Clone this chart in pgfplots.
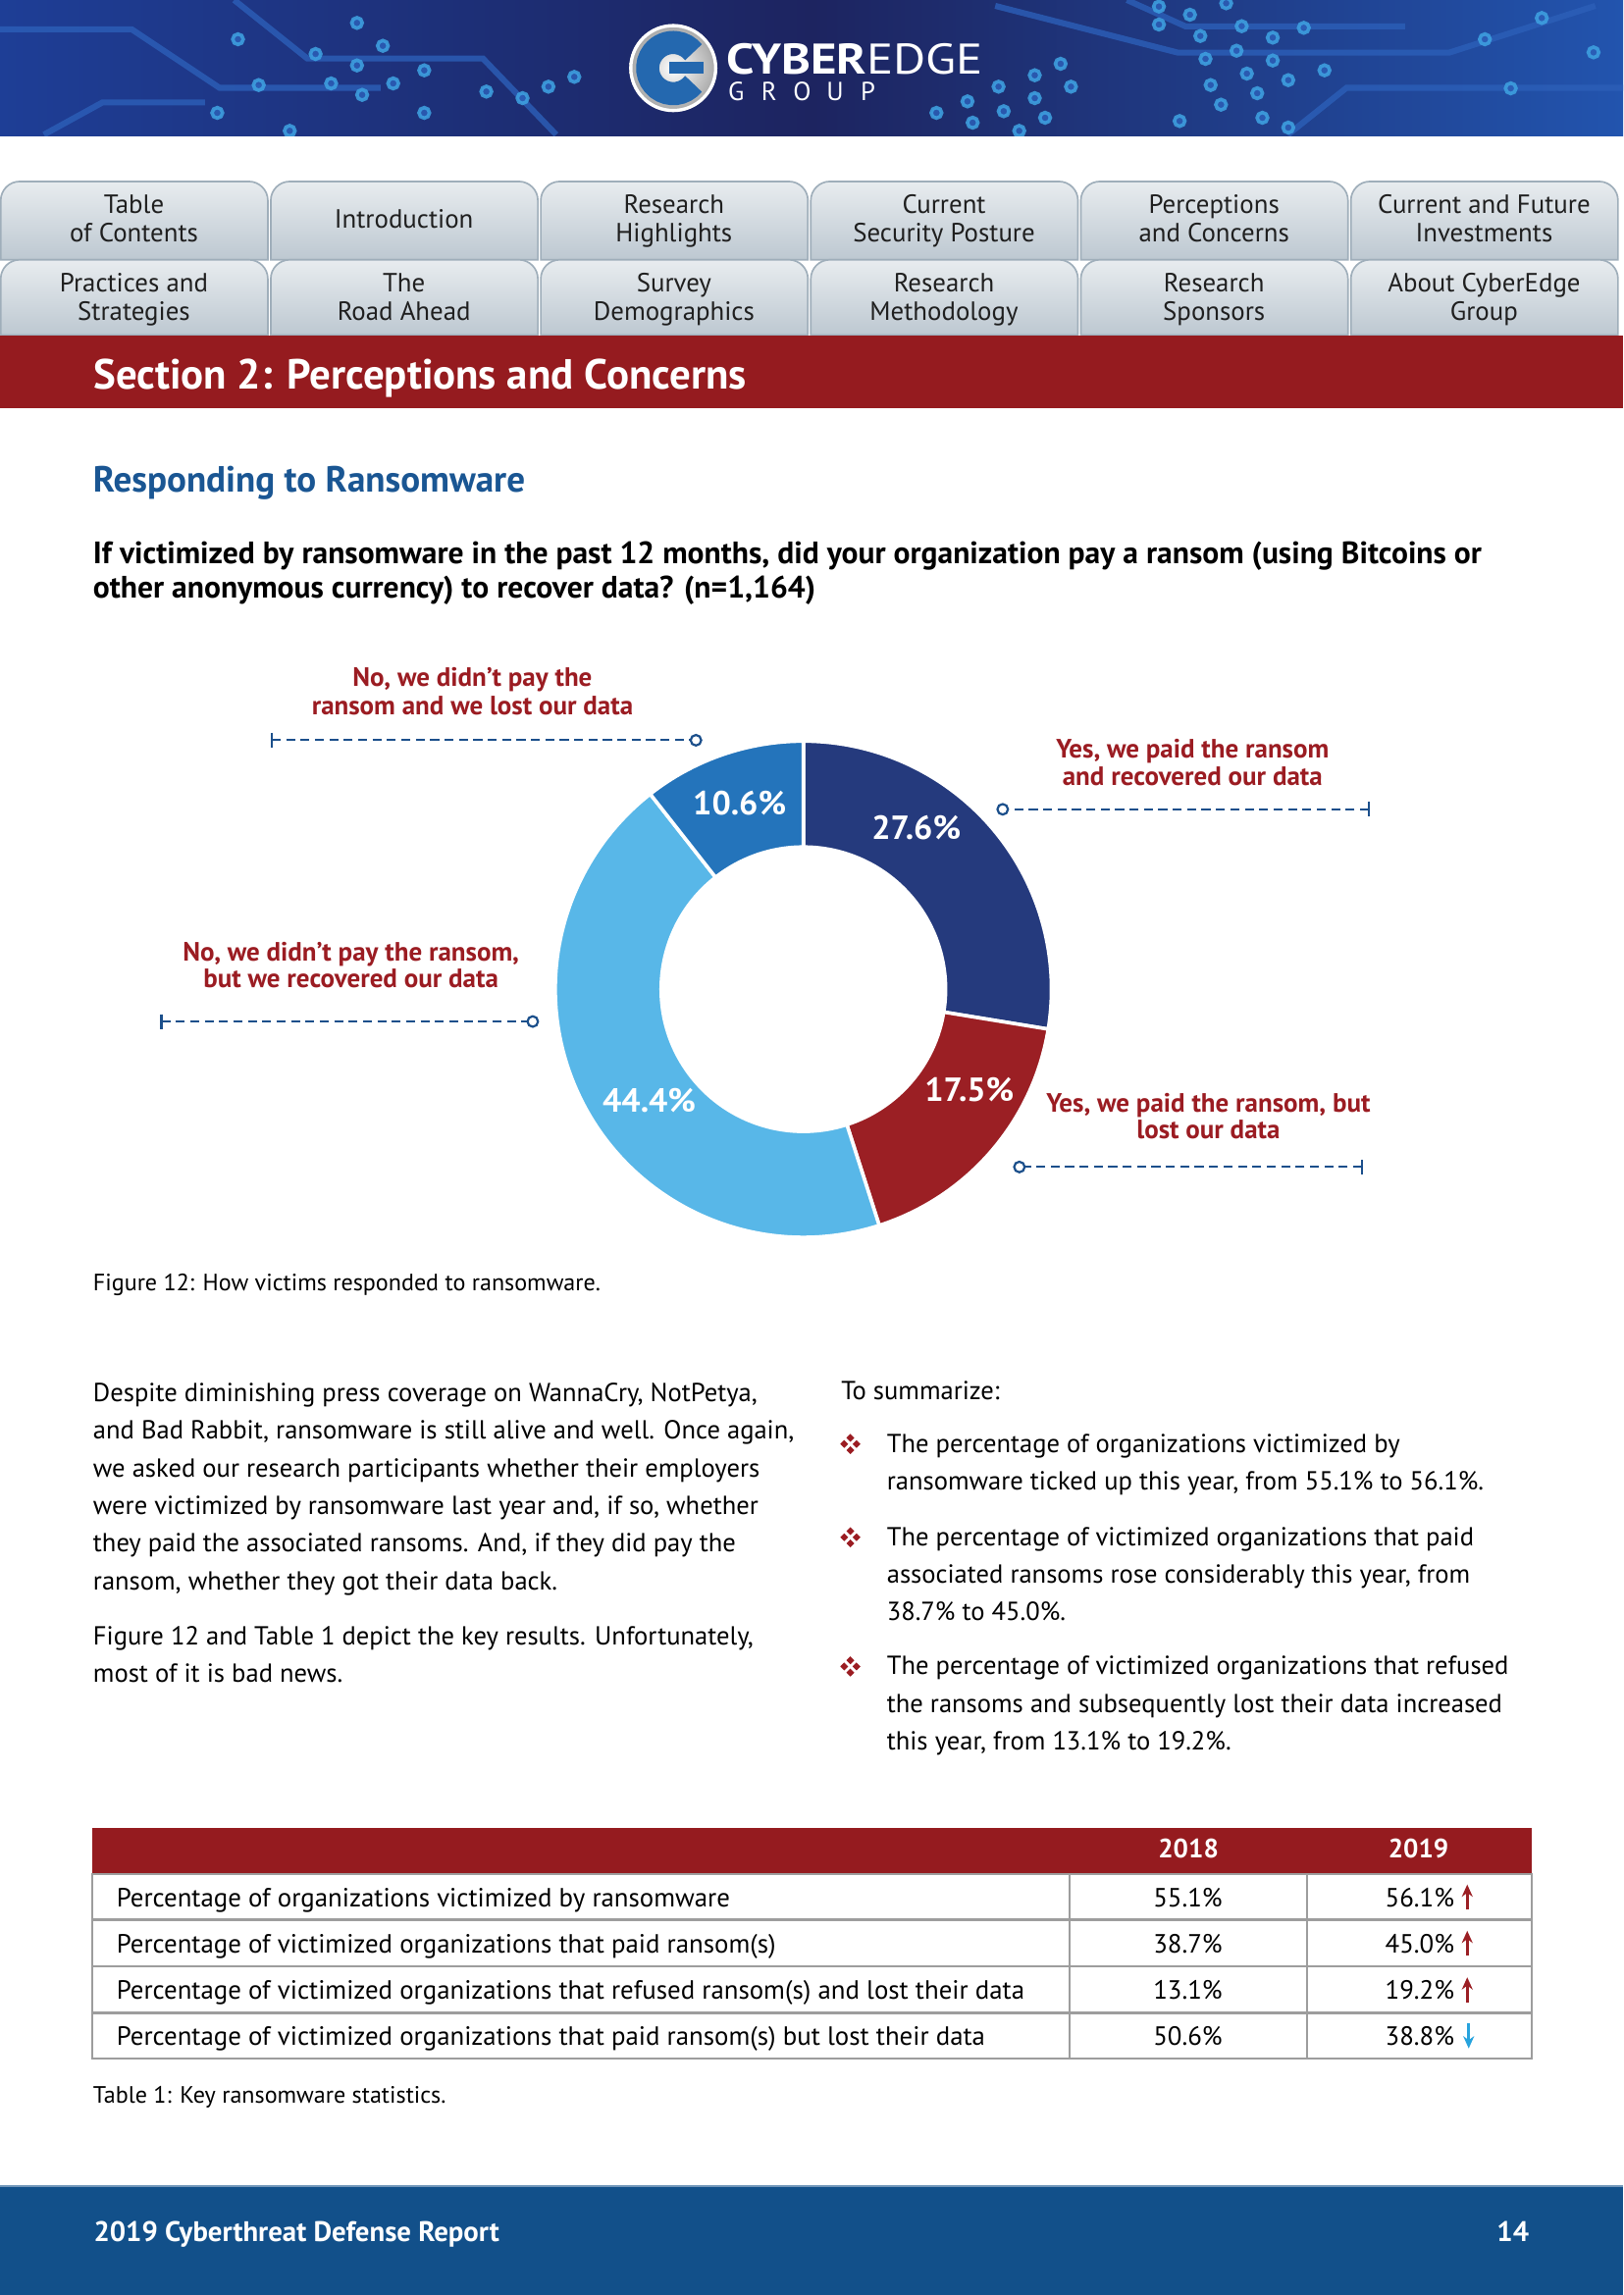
\documentclass[border=0pt]{standalone}
\usepackage{pgfplots}
\pgfplotsset{compat=1.18}
\usepackage{fontspec}
\setmainfont{PT Sans}
\usetikzlibrary{arrows.meta}

\definecolor{navy}{HTML}{253A7D}
\definecolor{slred}{HTML}{9B1F24}
\definecolor{lblue}{HTML}{58B7E8}
\definecolor{mblue}{HTML}{2474BB}
\definecolor{barred}{HTML}{951B1F}
\definecolor{titleblue}{HTML}{1A5693}
\definecolor{lineblue}{HTML}{1B4F8B}
\definecolor{footblue}{HTML}{12508A}
\definecolor{labred}{HTML}{9B1C22}
\definecolor{tabtop}{HTML}{E8ECEF}
\definecolor{tabbot}{HTML}{BDC8D1}
\definecolor{tabline}{HTML}{9FAEBA}
\definecolor{banL}{HTML}{1E3E96}
\definecolor{banM}{HTML}{1D2460}
\definecolor{banR}{HTML}{2254AE}
\definecolor{trace}{HTML}{2C5FB8}
\definecolor{dotc}{HTML}{3FA3E2}
\definecolor{tgrid}{HTML}{9D9D9D}
\definecolor{downblue}{HTML}{27A3DD}

\newcommand\fs[2]{\fontsize{#1}{#2}\selectfont}

% slice shares (percent) and their angles, clockwise from 12 o'clock
\def\pA{27.6}\def\pB{17.5}\def\pC{44.4}\def\pD{10.6}
\pgfmathsetmacro\k{360/(\pA+\pB+\pC+\pD)}
\pgfmathsetmacro\aA{90}
\pgfmathsetmacro\aB{\aA-\k*\pA}
\pgfmathsetmacro\aC{\aB-\k*\pB}
\pgfmathsetmacro\aD{\aC-\k*\pC}
\pgfmathsetmacro\aE{\aD-\k*\pD}
\def\Ro{3.21}\def\Ri{1.84}
\pgfmathsetmacro\Rd{\Ro-\Ri}

\newcommand\slice[3]{%
  \addplot[draw=white, line width=1.3pt, fill=#3, data cs=polar]
    coordinates {(#1,\Ro)}
    arc[start angle=#1, end angle=#2, radius=\Ro cm]
    -- ++({#2+180}:\Rd cm)
    arc[start angle=#2, end angle=#1, radius=\Ri cm]
    -- cycle;}

% dashed leader with a tick at one end and a ring at the other
\newcommand\leader[3]{% y, tick x, ring x
  \draw[lineblue, line width=0.7pt, dash pattern=on 3.3pt off 2pt] (#2,#1) -- (#3,#1);
  \draw[lineblue, line width=0.8pt] (#2,#1-5) -- (#2,#1+5);
  \draw[lineblue, line width=0.8pt, fill=white] (#3,#1) circle (3.6);}

\newcommand\bul[2]{%
  \foreach \dx/\dy in {0/-4.2,-4.2/0,4.2/0,0/4.2}
    \fill[labred] (#1+\dx,#2+\dy) +(0,-2.7) -- +(2.7,0) -- +(0,2.7) -- +(-2.7,0) -- cycle;}

\begin{document}
\begin{tikzpicture}
\begin{scope}[x=0.018936cm, y=-0.018936cm]
\path[use as bounding box, fill=white] (0,0) rectangle (1109,1568.2);

% ---- banner
\fill[left color=banL, right color=banR, middle color=banM] (0,0) rectangle (1109,92.7);
\begin{scope}
\clip (0,0) rectangle (1109,92.7);
\draw[trace, line width=2.2, opacity=.8]
  (680,4) -- (805,36) -- (990,36) -- (1090,4)
  (770,0) -- (810,18) -- (960,18)
  (0,20) -- (90,20) -- (150,60) -- (260,60)
  (160,0) -- (210,40) -- (330,40) -- (380,92)
  (880,92) -- (920,60) -- (1109,60)
  (30,92) -- (70,70) -- (140,70);
\foreach \a/\b in {1120/20,1150/45,1185/10,1120/75,1160/110,1200/80,1230/115,1260/85,
  1195/155,1230/185,1165/180,1205/225,1245/245,1280/215,1170/260,1215/285,1180/320,
  1220/360,1245/390,1140/370,1025/195,1000/230,1035/265,965/265,1000/300,935/310,
  970/340,1010/360,905/345,940/375,985/400,1460/270,1490/55,1435/120,1540/160,
  345/70,370/140,305/165,345/200,380/255,320/255,350/290,410/215,470/280,505/300,
  530/265,555/235,410/345,250/260,210/345,230/120,280/400}
  \draw[dotc, line width=1.3, fill=trace, opacity=.85] (\a*0.707,\b*0.2235) circle (3.6);
\end{scope}
% logo
\shade[inner color=white, outer color=black!35] (460,46.5) circle (30);
\draw[white, line width=1.2] (460,46.5) circle (29);
\draw[mblue!80!navy, line width=8.5] (460,46.5) ++(38:17.5) arc[start angle=38, end angle=322, radius=17.5];
\fill[mblue!80!navy] (457,42.5) rectangle (481,50.5);
\node[anchor=base west, inner sep=0, white, font=\fs{15.8}{16}, xscale=1.16, transform shape] at (496,50.3) {\bfseries CYBER\mdseries EDGE};
\foreach \c [count=\n from 0] in {G,R,O,U,P}
  \node[anchor=base, inner sep=0, white, font=\fs{9.6}{10}] at (503+22.5*\n,68.8) {\c};

% ---- tabs
\foreach \row/\ya/\yb in {0/124/177.5, 1/177.5/229} {
  \foreach \i in {0,...,5} {
    \pgfmathsetmacro\xa{0.5+184.5*\i}
    \pgfmathsetmacro\xb{\xa+182.5}
    \draw[tabline, line width=0.6pt, top color=tabtop, bottom color=tabbot]
      (\xa,\yb) [rounded corners=7] -- (\xa,\ya) -- (\xb,\ya) [sharp corners] -- (\xb,\yb) -- cycle;
  }
}
\begin{scope}[every node/.style={anchor=base, inner sep=0, font=\fs{9.7}{10}, text=black!88}]
\node at (91.5,145.7) {Table};            \node at (91.5,165.4) {of Contents};
\node at (276,156) {Introduction};
\node at (460.5,145.7) {Research};        \node at (460.5,165.4) {Highlights};
\node at (645,145.7) {Current};           \node at (645,165.4) {Security Posture};
\node at (829.5,145.7) {Perceptions};     \node at (829.5,165.4) {and Concerns};
\node at (1014,145.7) {Current and Future}; \node at (1014,165.4) {Investments};
\node at (91.5,199.5) {Practices and};    \node at (91.5,218.8) {Strategies};
\node at (276,199.5) {The};               \node at (276,218.8) {Road Ahead};
\node at (460.5,199.5) {Survey};          \node at (460.5,218.8) {Demographics};
\node at (645,199.5) {Research};          \node at (645,218.8) {Methodology};
\node at (829.5,199.5) {Research};        \node at (829.5,218.8) {Sponsors};
\node at (1014,199.5) {About CyberEdge};  \node at (1014,218.8) {Group};
\end{scope}

% ---- section bar and headings
\fill[barred] (0,229) rectangle (1109,279);
\node[anchor=base west, inner sep=0, white, font=\fs{15.5}{16}\bfseries] at (63.5,265.5) {Section 2: Perceptions and Concerns};
\node[anchor=base west, inner sep=0, titleblue, font=\fs{13.4}{14}\bfseries] at (63.3,336.4) {Responding to Ransomware};
\begin{scope}[every node/.style={anchor=base west, inner sep=0, font=\fs{11.4}{12}\bfseries}]
\node at (63.3,385.5) {If victimized by ransomware in the past 12 months, did your organization pay a ransom (using Bitcoins or};
\node at (63.3,408.5) {other anonymous currency) to recover data? (n=1,164)};
\end{scope}

% ---- donut labels and leaders
\begin{scope}[every node/.style={anchor=base, inner sep=0, labred, font=\fs{9.75}{10}\bfseries}]
\node at (322.8,469.3) {No, we didn’t pay the};
\node at (322.8,488.3) {ransom and we lost our data};
\node at (814.8,518) {Yes, we paid the ransom};
\node at (814.8,536.4) {and recovered our data};
\node at (239.8,656.6) {No, we didn’t pay the ransom,};
\node at (239.8,675) {but we recovered our data};
\node at (825.6,759.9) {Yes, we paid the ransom, but};
\node at (825.6,778.2) {lost our data};
\end{scope}
\leader{505.8}{185.7}{475.5}
\leader{553}{935.3}{685.1}
\leader{698}{110.3}{364}
\leader{797.4}{930.6}{696.5}

% ---- captions and body text
\node[anchor=base west, inner sep=0, font=\fs{8.7}{10}] at (63.3,881.7) {Figure 12: How victims responded to ransomware.};
\node[anchor=base west, inner sep=0, font=\fs{8.7}{10}] at (63.3,1437) {Table 1: Key ransomware statistics.};
\begin{scope}[every node/.style={anchor=base west, inner sep=0, font=\fs{9.6}{12}}]
\node at (63.3,957.6) {Despite diminishing press coverage on WannaCry, NotPetya,};
\node at (63.3,983.4) {and Bad Rabbit, ransomware is still alive and well. Once again,};
\node at (63.3,1009.1) {we asked our research participants whether their employers};
\node at (63.3,1034.8) {were victimized by ransomware last year and, if so, whether};
\node at (63.3,1060.5) {they paid the associated ransoms. And, if they did pay the};
\node at (63.3,1086.3) {ransom, whether they got their data back.};
\node at (63.3,1124.2) {Figure 12 and Table 1 depict the key results. Unfortunately,};
\node at (63.3,1149.8) {most of it is bad news.};
\node at (574.4,956.5) {To summarize:};
\node at (605.6,992.3) {The percentage of organizations victimized by};
\node at (605.6,1018) {ransomware ticked up this year, from 55.1\% to 56.1\%.};
\node at (605.6,1056) {The percentage of victimized organizations that paid};
\node at (605.6,1081.7) {associated ransoms rose considerably this year, from};
\node at (605.6,1107.4) {38.7\% to 45.0\%.};
\node at (605.6,1144.3) {The percentage of victimized organizations that refused};
\node at (605.6,1170) {the ransoms and subsequently lost their data increased};
\node at (605.6,1195.7) {this year, from 13.1\% to 19.2\%.};
\end{scope}
\bul{581}{986.7}
\bul{581}{1050.4}
\bul{581}{1138.7}

% ---- table
\fill[barred] (63.3,1248.9) rectangle (1046.7,1280.6);
\node[anchor=base, inner sep=0, white, font=\fs{9.8}{10}\bfseries] at (812,1269.4) {2018};
\node[anchor=base, inner sep=0, white, font=\fs{9.8}{10}\bfseries] at (969.2,1269.4) {2019};
\draw[tgrid, line width=0.7pt] (63.3,1280.6) rectangle (1046.7,1406.9);
\foreach \y in {1311.9,1343.6,1375.6} \draw[tgrid, line width=1pt] (63.3,\y) -- (1046.7,\y);
\draw[tgrid, line width=0.7pt] (730.5,1280.6) -- (730.5,1406.9) (892.9,1280.6) -- (892.9,1406.9);
\begin{scope}[every node/.style={inner sep=0, font=\fs{9.7}{10}}]
\node[anchor=base west] at (79.3,1302.7) {Percentage of organizations victimized by ransomware};
\node[anchor=base west] at (79.3,1334.3) {Percentage of victimized organizations that paid ransom(s)};
\node[anchor=base west] at (79.3,1366.1) {Percentage of victimized organizations that refused ransom(s) and lost their data};
\node[anchor=base west] at (79.3,1397.7) {Percentage of victimized organizations that paid ransom(s) but lost their data};
\node[anchor=base] at (811.6,1302.7) {55.1\%};
\node[anchor=base] at (811.6,1334.3) {38.7\%};
\node[anchor=base] at (811.6,1366.1) {13.1\%};
\node[anchor=base] at (811.6,1397.7) {50.6\%};
\node[anchor=base east] at (994,1302.7) {56.1\%};
\node[anchor=base east] at (994,1334.3) {45.0\%};
\node[anchor=base east] at (994,1366.1) {19.2\%};
\node[anchor=base east] at (994,1397.7) {38.8\%};
\end{scope}
\foreach \y in {1302.7,1334.3,1366.1}
  \draw[slred, line width=1.1pt, -{Stealth[length=4.5pt, width=4pt]}] (1002.5,\y+2) -- (1002.5,\y-15);
\draw[downblue, line width=1.1pt, -{Stealth[length=4.5pt, width=4pt]}] (1003.5,1397.7-15) -- (1003.5,1397.7+2);

% ---- footer
\fill[footblue] (0,1494) rectangle (1109,1568.2);
\fill[footblue!60!white] (0,1493) rectangle (1109,1494.3);
\node[anchor=base west, inner sep=0, white, font=\fs{10.4}{11}\bfseries] at (63.7,1531.4) {2019 Cyberthreat Defense Report};
\node[anchor=base east, inner sep=0, white, font=\fs{10.4}{11}\bfseries] at (1045,1531.4) {14};
\end{scope}

% ---- donut chart
\begin{axis}[
    at={(10.394cm,-12.799cm)}, anchor=origin,
    x=1cm, y=1cm,
    xmin=-3.4, xmax=3.4, ymin=-3.4, ymax=3.4,
    hide axis, clip=false,
]
\slice{\aA}{\aB}{navy}
\slice{\aB}{\aC}{slred}
\slice{\aC}{\aD}{lblue}
\slice{\aD}{\aE}{mblue}
\end{axis}

\begin{scope}[x=0.018936cm, y=-0.018936cm,
  every node/.style={anchor=base, inner sep=0, white, font=\fs{12.3}{13}\bfseries}]
\node at (505.3,556.6) {10.6\%};
\node at (626,573.5) {27.6\%};
\node at (662.3,752.9) {17.5\%};
\node at (443.6,760) {44.4\%};
\end{scope}
\end{tikzpicture}
\end{document}
